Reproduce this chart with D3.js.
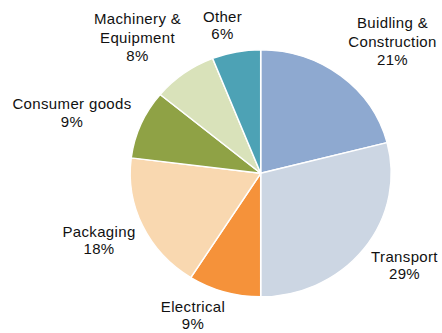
<!DOCTYPE html>
<html>
<head>
<meta charset="utf-8">
<script src="https://cdn.jsdelivr.net/npm/d3@7"></script>
<style>
  html, body { margin: 0; padding: 0; background: #fff; }
  svg { display: block; }
  text { font-family: "Liberation Sans", Arial, sans-serif; font-size: 15px; fill: #111; letter-spacing: 0.35px; }
</style>
</head>
<body>
<svg id="chart" width="442" height="333"></svg>
<script>
// End-use sectors and their share (%)
const sectors = ["Buidling & Construction", "Transport", "Electrical", "Packaging",
                 "Consumer goods", "Machinery & Equipment", "Other"];
const shares = [21, 29, 9, 18, 9, 8, 6];
const colors = ["#8EA9D0", "#CCD6E3", "#F5923A", "#F9D8B0", "#8FA245", "#D9E2BA", "#4DA2B5"];
// Label text lines for each sector
const labelLines = [
  ["Buidling &", "Construction"],
  ["Transport"],
  ["Electrical"],
  ["Packaging"],
  ["Consumer goods"],
  ["Machinery &", "Equipment"],
  ["Other"]
];

// Layout
const W = 442, H = 333;
const cx = 260.7, cy = 173.3;
const ry = 123.5, rx = 130.5;          // pie is drawn slightly wider than tall
const lineGap = 18.5;
// label block anchor: centre x, first baseline y
const labelAt = [
  [392.5, 28], [404.5, 261.5], [193, 311.5], [99, 236.7],
  [72, 109.3], [137.5, 24], [222.5, 21.7]
];

const svg = d3.select("#chart");

const pie = d3.pie().sort(null).value(d => d.share);
const arc = d3.arc().innerRadius(0).outerRadius(ry);

const data = sectors.map((s, i) => ({ sector: s, share: shares[i], color: colors[i], lines: labelLines[i] }));
const arcs = pie(data);

const g = svg.append("g")
  .attr("transform", `translate(${cx},${cy}) scale(${rx / ry},1)`);

g.selectAll("path")
  .data(arcs)
  .join("path")
  .attr("d", arc)
  .attr("fill", d => d.data.color)
  .attr("stroke", "#fff")
  .attr("stroke-width", 1.4)
  .attr("stroke-linejoin", "round");

const labels = svg.append("g")
  .selectAll("text")
  .data(arcs)
  .join("text")
  .attr("text-anchor", "middle")
  .attr("transform", (d, i) => `translate(${labelAt[i][0]},${labelAt[i][1]})`);

labels.each(function (d) {
  const t = d3.select(this);
  const lines = d.data.lines.concat([d.data.share + "%"]);
  lines.forEach((ln, k) => {
    t.append("tspan").attr("x", 0).attr("y", k * (k === lines.length - 1 && d.data.lines.length === 1 ? 17.5 : lineGap)).text(ln);
  });
});
</script>
</body>
</html>
